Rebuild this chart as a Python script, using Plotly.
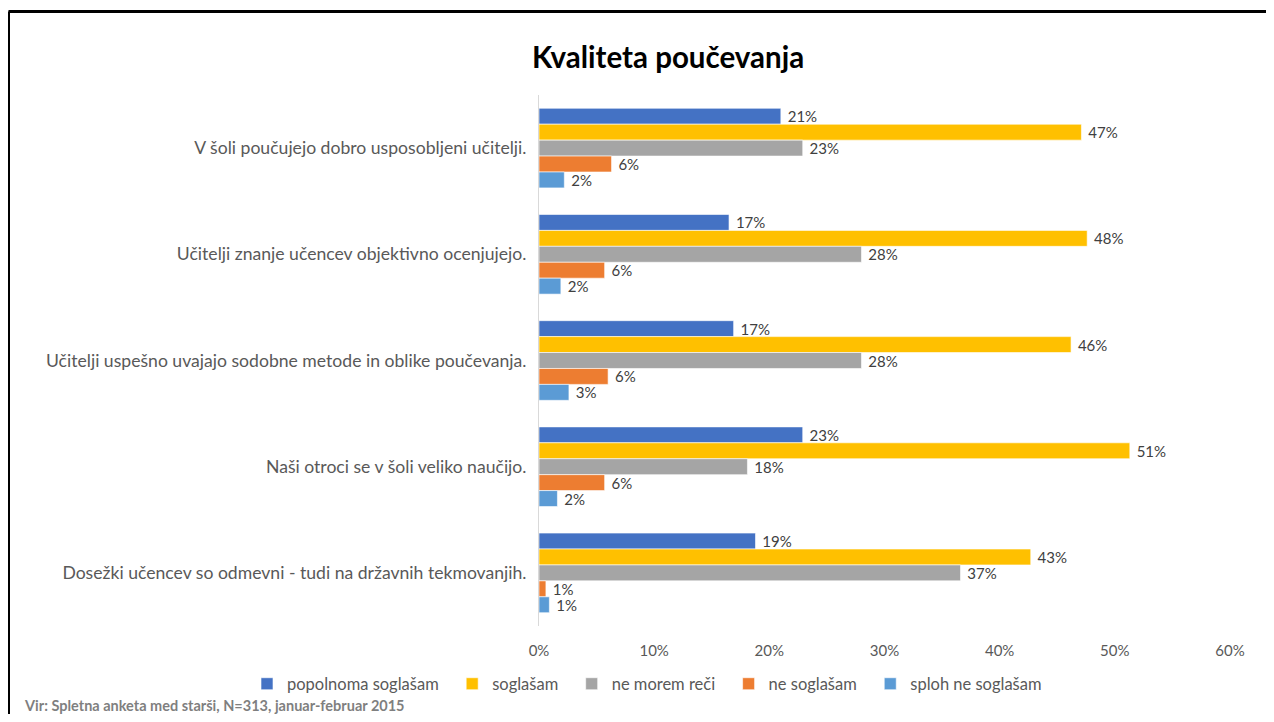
import plotly.graph_objects as go

# survey statements (top to bottom)
categories = [
    'V šoli poučujejo dobro usposobljeni učitelji.',
    'Učitelji znanje učencev objektivno ocenjujejo.',
    'Učitelji uspešno uvajajo sodobne metode in oblike poučevanja.',
    'Naši otroci se v šoli veliko naučijo.',
    'Dosežki učencev so odmevni - tudi na državnih tekmovanjih.',
]

# answer shares in percent
popolnoma = [21.0, 16.5, 16.9, 22.9, 18.8]
soglasam = [47.1, 47.6, 46.2, 51.3, 42.7]
ne_morem = [22.9, 28.0, 28.0, 18.1, 36.6]
ne_soglasam = [6.3, 5.7, 6.0, 5.7, 0.6]
sploh_ne = [2.2, 1.9, 2.6, 1.6, 0.9]

series_names = ['popolnoma soglašam', 'soglašam', 'ne morem reči', 'ne soglašam', 'sploh ne soglašam']
series_values = [popolnoma, soglasam, ne_morem, ne_soglasam, sploh_ne]
colors = ['#4472C4', '#FFC000', '#A5A5A5', '#ED7D31', '#5B9BD5']

x_ticks = [0, 10, 20, 30, 40, 50, 60]
x_tick_text = ['0%', '10%', '20%', '30%', '40%', '50%', '60%']

# page body has an 8px margin, so the figure is a bit smaller than the window
OFF = 8
W, H = 1274 - 2 * OFF, 722 - 2 * OFF
L, R, T, B = 539 - OFF, W - (1230 - OFF), 95 - OFF, H - (626 - OFF)
FONT = 'Lato, Open Sans, sans-serif'


def px_x(p):
    # screen pixel -> paper x
    return (p - OFF - L) / (W - L - R)


def px_y(p):
    # screen pixel -> paper y
    return (H - B - (p - OFF)) / (H - T - B)


fig = go.Figure()
for i, (name, vals, col) in enumerate(zip(series_names, series_values, colors)):
    # a little extra room after each legend entry, like the original
    legend_name = name if i == len(series_names) - 1 else name + '\u00a0' * 2
    fig.add_trace(go.Bar(
        name=legend_name,
        y=categories,
        x=vals,
        orientation='h',
        marker=dict(color=col, line=dict(color='white', width=0.6)),
        texttemplate=' %{x:.0f}%',
        textposition='outside',
        constraintext='none',
        textfont=dict(size=15, color='#404040', family=FONT),
        cliponaxis=False,
    ))

fig.update_layout(
    width=W, height=H,
    margin=dict(l=L, r=R, t=T, b=B),
    paper_bgcolor='white',
    plot_bgcolor='white',
    barmode='group',
    bargap=0.25,
    bargroupgap=0,
    font=dict(family=FONT, color='#595959'),
    title=dict(
        text='<b>Kvaliteta poučevanja</b>',
        x=(668 - OFF) / W, xanchor='center',
        y=1 - (58 - OFF) / H, yanchor='middle',
        font=dict(size=29.5, color='black', family=FONT),
    ),
    xaxis=dict(
        range=[0, 60],
        tickvals=x_ticks,
        ticktext=x_tick_text,
        showgrid=False,
        zeroline=False,
        showline=False,
        tickfont=dict(size=15, color='#595959'),
        ticklabelstandoff=14,
    ),
    yaxis=dict(
        autorange='reversed',
        showgrid=False,
        showline=True,
        linecolor='#D9D9D9',
        linewidth=1,
        ticks='',
        tickfont=dict(size=17.6, color='#595959'),
        ticklabelstandoff=8,
        automargin=False,
    ),
    legend=dict(
        orientation='h',
        x=px_x(247), xanchor='left',
        y=px_y(684), yanchor='middle',
        font=dict(size=16.5, color='#595959'),
        itemwidth=30,
        tracegroupgap=0,
    ),
    showlegend=True,
)

fig.add_annotation(
    text='<b>Vir: Spletna anketa med starši, N=313, januar-februar 2015</b>',
    xref='paper', yref='paper',
    x=px_x(22), y=px_y(705),
    xanchor='left', yanchor='middle',
    showarrow=False,
    font=dict(size=14.5, color='#7F7F7F', family=FONT),
)

# slide frame (top and left edges)
fig.add_shape(type='line', xref='paper', yref='paper',
              x0=px_x(8.5), x1=px_x(1290), y0=px_y(11.5), y1=px_y(11.5),
              line=dict(color='black', width=3))
fig.add_shape(type='line', xref='paper', yref='paper',
              x0=px_x(8.5), x1=px_x(8.5), y0=px_y(11.5), y1=px_y(740),
              line=dict(color='black', width=3))

fig.write_html("out.html")
